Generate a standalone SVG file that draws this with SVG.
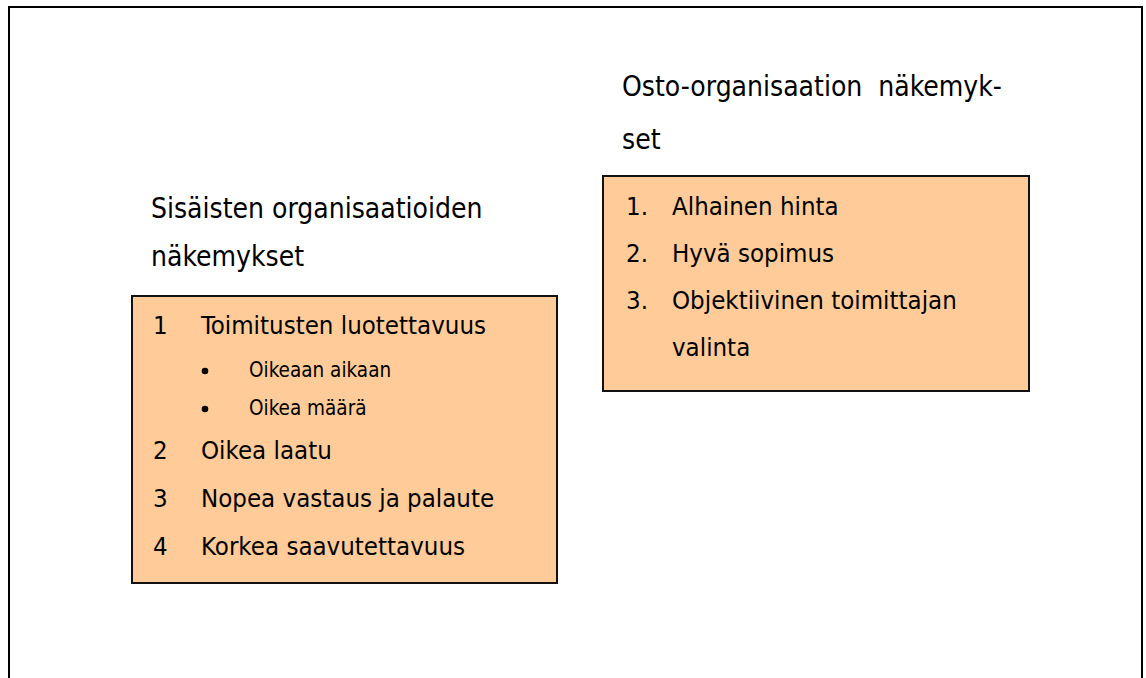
<svg xmlns="http://www.w3.org/2000/svg" width="1146" height="678" viewBox="0 0 1146 678">
<style>
text{font-family:"DejaVu Sans Condensed","DejaVu Sans",sans-serif;font-stretch:condensed;fill:#000}
.t{font-size:25.6px}
.h{font-size:28px}
.s{font-size:20.5px}
.box{fill:#FFCC99;stroke:#111;stroke-width:2}
</style>
<rect width="1146" height="678" fill="#fff"/>
<path d="M9,680 V7 H1142 V680" fill="none" stroke="#000" stroke-width="2"/>
<g id="header-right">
<text class="h" x="622" y="96" xml:space="preserve">Osto-organisaation  näkemyk-</text>
<text class="h" x="622" y="149">set</text>
</g>
<g id="box-right">
<rect class="box" x="603" y="176" width="426" height="215"/>
<text class="t" x="626" y="215">1.</text><text class="t" x="672" y="215">Alhainen hinta</text>
<text class="t" x="626" y="262">2.</text><text class="t" x="672" y="262">Hyvä sopimus</text>
<text class="t" x="626" y="309">3.</text><text class="t" x="672" y="309">Objektiivinen toimittajan</text>
<text class="t" x="672" y="356">valinta</text>
</g>
<g id="header-left">
<text class="h" x="151" y="218">Sisäisten organisaatioiden</text>
<text class="h" x="151" y="266">näkemykset</text>
</g>
<g id="box-left">
<rect class="box" x="132" y="296" width="425" height="287"/>
<text class="t" x="153" y="334">1</text><text class="t" x="201" y="334">Toimitusten luotettavuus</text>
<circle cx="205" cy="371" r="3.3"/><text class="s" x="249" y="377">Oikeaan aikaan</text>
<circle cx="205" cy="409" r="3.3"/><text class="s" x="249" y="415">Oikea määrä</text>
<text class="t" x="153" y="459">2</text><text class="t" x="201" y="459">Oikea laatu</text>
<text class="t" x="153" y="507">3</text><text class="t" x="201" y="507">Nopea vastaus ja palaute</text>
<text class="t" x="153" y="555">4</text><text class="t" x="201" y="555">Korkea saavutettavuus</text>
</g>
</svg>
